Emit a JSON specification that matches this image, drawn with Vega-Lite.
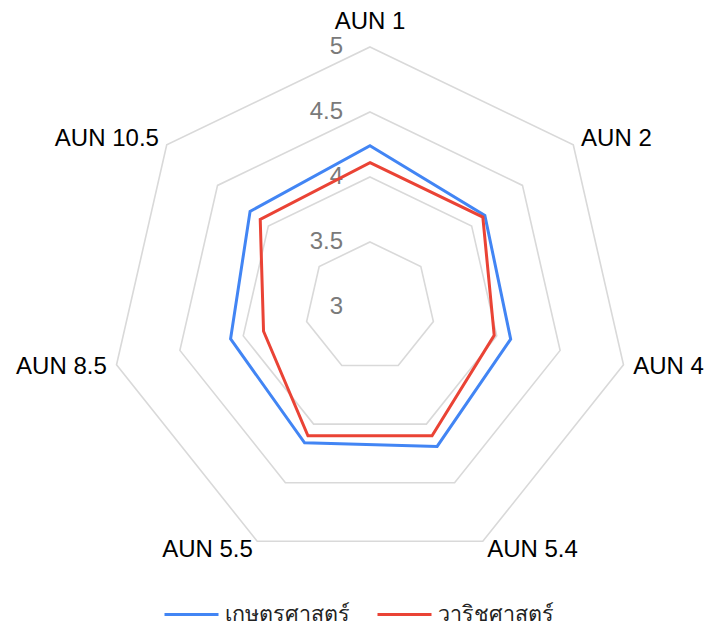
{
  "$schema": "https://vega.github.io/schema/vega-lite/v6.json",
  "width": 706,
  "height": 634,
  "autosize": {"type": "none"},
  "padding": 0,
  "background": "white",
  "config": {"view": {"stroke": null}, "font": "Liberation Sans"},
  "datasets": {
    "scores": [
      {"axis": "AUN 1", "series": "เกษตรศาสตร์", "value": 4.24},
      {"axis": "AUN 2", "series": "เกษตรศาสตร์", "value": 4.13},
      {"axis": "AUN 4", "series": "เกษตรศาสตร์", "value": 4.11},
      {"axis": "AUN 5.4", "series": "เกษตรศาสตร์", "value": 4.19},
      {"axis": "AUN 5.5", "series": "เกษตรศาสตร์", "value": 4.16},
      {"axis": "AUN 8.5", "series": "เกษตรศาสตร์", "value": 4.10},
      {"axis": "AUN 10.5", "series": "เกษตรศาสตร์", "value": 4.18},
      {"axis": "AUN 1", "series": "วาริชศาสตร์", "value": 4.11},
      {"axis": "AUN 2", "series": "วาริชศาสตร์", "value": 4.11},
      {"axis": "AUN 4", "series": "วาริชศาสตร์", "value": 3.98},
      {"axis": "AUN 5.4", "series": "วาริชศาสตร์", "value": 4.10},
      {"axis": "AUN 5.5", "series": "วาริชศาสตร์", "value": 4.10},
      {"axis": "AUN 8.5", "series": "วาริชศาสตร์", "value": 3.84},
      {"axis": "AUN 10.5", "series": "วาริชศาสตร์", "value": 4.08}
    ],
    "grid": [
      {"axis": "AUN 1", "level": 3.5}, {"axis": "AUN 2", "level": 3.5}, {"axis": "AUN 4", "level": 3.5}, {"axis": "AUN 5.4", "level": 3.5}, {"axis": "AUN 5.5", "level": 3.5}, {"axis": "AUN 8.5", "level": 3.5}, {"axis": "AUN 10.5", "level": 3.5},
      {"axis": "AUN 1", "level": 4}, {"axis": "AUN 2", "level": 4}, {"axis": "AUN 4", "level": 4}, {"axis": "AUN 5.4", "level": 4}, {"axis": "AUN 5.5", "level": 4}, {"axis": "AUN 8.5", "level": 4}, {"axis": "AUN 10.5", "level": 4},
      {"axis": "AUN 1", "level": 4.5}, {"axis": "AUN 2", "level": 4.5}, {"axis": "AUN 4", "level": 4.5}, {"axis": "AUN 5.4", "level": 4.5}, {"axis": "AUN 5.5", "level": 4.5}, {"axis": "AUN 8.5", "level": 4.5}, {"axis": "AUN 10.5", "level": 4.5},
      {"axis": "AUN 1", "level": 5}, {"axis": "AUN 2", "level": 5}, {"axis": "AUN 4", "level": 5}, {"axis": "AUN 5.4", "level": 5}, {"axis": "AUN 5.5", "level": 5}, {"axis": "AUN 8.5", "level": 5}, {"axis": "AUN 10.5", "level": 5}
    ],
    "levels": [{"level": "3"}, {"level": "3.5"}, {"level": "4"}, {"level": "4.5"}, {"level": "5"}]
  },
  "layer": [
    {
      "data": {"name": "grid"},
      "transform": [
        {"window": [{"op": "row_number", "as": "k"}], "groupby": ["level"]},
        {"calculate": "(datum.level - 3) * sin(2 * PI * (datum.k - 1) / 7)", "as": "x"},
        {"calculate": "(datum.level - 3) * cos(2 * PI * (datum.k - 1) / 7)", "as": "y"}
      ],
      "mark": {"type": "line", "interpolate": "linear-closed", "stroke": "#d9d9d9", "strokeWidth": 1.6},
      "encoding": {
        "x": {"field": "x", "type": "quantitative", "scale": {"domain": [-2.8462, 2.5846], "nice": false, "zero": false}, "axis": null},
        "y": {"field": "y", "type": "quantitative", "scale": {"domain": [-2.5154, 2.3615], "nice": false, "zero": false}, "axis": null},
        "detail": {"field": "level", "type": "nominal"},
        "order": {"field": "k", "type": "quantitative"}
      }
    },
    {
      "data": {"name": "levels"},
      "transform": [
        {"calculate": "0", "as": "x"},
        {"calculate": "toNumber(datum.level) - 3", "as": "y"}
      ],
      "mark": {"type": "text", "align": "right", "baseline": "middle", "dx": -27, "fontSize": 24, "color": "#7a7a7a"},
      "encoding": {
        "x": {"field": "x", "type": "quantitative"},
        "y": {"field": "y", "type": "quantitative"},
        "text": {"field": "level", "type": "nominal"}
      }
    },
    {
      "data": {"name": "scores"},
      "transform": [
        {"filter": "datum.series === 'เกษตรศาสตร์'"},
        {"window": [{"op": "row_number", "as": "k"}]},
        {"calculate": "2.077 * sin(2 * PI * (datum.k - 1) / 7)", "as": "x"},
        {"calculate": "2.077 * cos(2 * PI * (datum.k - 1) / 7)", "as": "y"}
      ],
      "encoding": {
        "x": {"field": "x", "type": "quantitative"},
        "y": {"field": "y", "type": "quantitative"},
        "text": {"field": "axis", "type": "nominal"}
      },
      "layer": [
        {"transform": [{"filter": "datum.k == 1"}], "mark": {"type": "text", "align": "center", "baseline": "middle", "dy": -15, "fontSize": 24, "color": "#000000"}},
        {"transform": [{"filter": "datum.k >= 2 && datum.k <= 4"}], "mark": {"type": "text", "align": "left", "baseline": "middle", "fontSize": 24, "color": "#000000"}},
        {"transform": [{"filter": "datum.k >= 5"}], "mark": {"type": "text", "align": "right", "baseline": "middle", "fontSize": 24, "color": "#000000"}}
      ]
    },
    {
      "data": {"name": "scores"},
      "transform": [
        {"window": [{"op": "row_number", "as": "k"}], "groupby": ["series"]},
        {"calculate": "(datum.value - 3) * sin(2 * PI * (datum.k - 1) / 7)", "as": "x"},
        {"calculate": "(datum.value - 3) * cos(2 * PI * (datum.k - 1) / 7)", "as": "y"}
      ],
      "mark": {"type": "line", "interpolate": "linear-closed", "strokeWidth": 3},
      "encoding": {
        "x": {"field": "x", "type": "quantitative"},
        "y": {"field": "y", "type": "quantitative"},
        "order": {"field": "k", "type": "quantitative"},
        "color": {
          "field": "series",
          "type": "nominal",
          "scale": {"domain": ["เกษตรศาสตร์", "วาริชศาสตร์"], "range": ["#4285F4", "#EA4335"]},
          "legend": {
            "title": null,
            "orient": "none",
            "legendX": 163,
            "legendY": 586,
            "direction": "horizontal",
            "symbolType": "stroke",
            "symbolSize": 2916,
            "symbolStrokeWidth": 3,
            "labelFontSize": 21.5,
            "labelColor": "#222222",
            "labelOffset": 5,
            "columnPadding": 21,
            "padding": 0
          }
        }
      }
    }
  ]
}
